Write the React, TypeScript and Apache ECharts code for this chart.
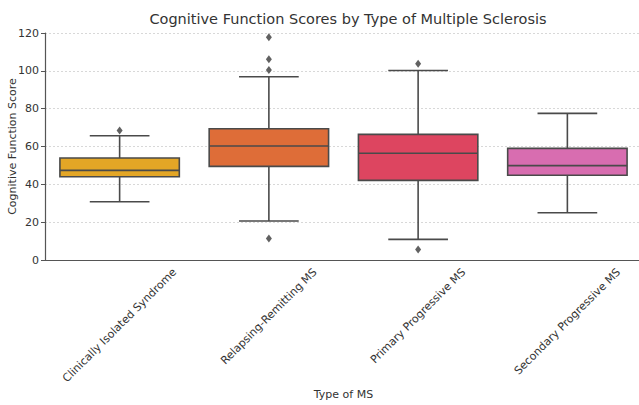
import React, { useEffect, useRef } from "react";
import * as echarts from "echarts";

const categories = [
  "Clinically Isolated Syndrome",
  "Relapsing-Remitting MS",
  "Primary Progressive MS",
  "Secondary Progressive MS",
];
// [lower whisker, Q1, median, Q3, upper whisker]
const boxStats = [
  [30.8, 44.0, 47.4, 53.9, 65.7],
  [20.6, 49.5, 60.3, 69.4, 96.9],
  [10.9, 42.1, 56.4, 66.4, 100.2],
  [25.0, 44.8, 49.9, 59.0, 77.5],
];
// [category index, value]
const outliers = [
  [0, 68.5],
  [1, 117.7],
  [1, 106.1],
  [1, 100.4],
  [1, 11.3],
  [2, 103.8],
  [2, 5.6],
];
const boxColors = ["#E3A626", "#DE6D38", "#DD4560", "#D86DB0"];
const yTicks = [0, 20, 40, 60, 80, 100, 120];

const FONT = "DejaVu Sans";
const LABEL_SIZE = 11;

export default function App() {
  const ref = useRef<HTMLDivElement>(null);
  useEffect(() => {
    if (!ref.current) return;
    const chart = echarts.init(ref.current, undefined, { renderer: "svg" });
    const edge = "#4a4a4a";
    chart.setOption({
      animation: false,
      backgroundColor: "#ffffff",
      title: {
        text: "Cognitive Function Scores by Type of Multiple Sclerosis",
        left: 343,
        top: 6,
        textAlign: "center",
        textStyle: { fontFamily: FONT, fontSize: 14.5, fontWeight: "normal", color: "#333" },
      },
      grid: {
        left: 45,
        top: 33,
        width: 597,
        height: 227,
        containLabel: false,
        outerBoundsMode: "none",
      },
      xAxis: {
        type: "category",
        data: categories,
        boundaryGap: true,
        name: "Type of MS",
        nameLocation: "middle",
        nameGap: 129,
        nameMoveOverlap: false,
        nameTextStyle: { fontFamily: FONT, fontSize: 11, color: "#333", verticalAlign: "top" },
        axisLine: { lineStyle: { color: "#555", width: 1.2 } },
        axisTick: { alignWithLabel: true, length: 4, lineStyle: { color: "#555" } },
        axisLabel: { show: false },
        splitLine: { show: false },
      },
      yAxis: {
        type: "value",
        min: 0,
        max: 120,
        interval: 20,
        name: "Cognitive Function Score",
        nameLocation: "middle",
        nameGap: 27,
        nameMoveOverlap: false,
        nameTextStyle: { fontFamily: FONT, fontSize: 11, color: "#333" },
        axisLine: { show: true, lineStyle: { color: "#555", width: 1.2 } },
        axisTick: { show: true, length: 4, lineStyle: { color: "#555" } },
        axisLabel: {
          fontFamily: FONT,
          fontSize: 11,
          color: "#333",
          margin: 6,
          customValues: yTicks,
        },
        splitLine: { show: true, lineStyle: { color: "#d8d8d8", type: [2, 2], width: 1 } },
      },
      series: [
        {
          type: "custom",
          data: boxStats.map((s, i) => [i, ...s]),
          encode: { x: 0, y: [1, 2, 3, 4, 5] },
          renderItem: (params: any, api: any) => {
            const idx = api.value(0);
            const vals = [1, 2, 3, 4, 5].map((k) => api.value(k));
            const band = api.size([1, 0])[0];
            const bw = band * 0.8;
            const cw = bw / 2;
            const cx = api.coord([idx, 0])[0];
            const y = vals.map((v: number) => api.coord([idx, v])[1]);
            const ls = { stroke: edge, lineWidth: 1.6 };
            return {
              type: "group",
              children: [
                { type: "line", shape: { x1: cx, y1: y[0], x2: cx, y2: y[1] }, style: ls },
                { type: "line", shape: { x1: cx, y1: y[3], x2: cx, y2: y[4] }, style: ls },
                { type: "line", shape: { x1: cx - cw / 2, y1: y[0], x2: cx + cw / 2, y2: y[0] }, style: ls },
                { type: "line", shape: { x1: cx - cw / 2, y1: y[4], x2: cx + cw / 2, y2: y[4] }, style: ls },
                {
                  type: "rect",
                  shape: { x: cx - bw / 2, y: y[3], width: bw, height: y[1] - y[3] },
                  style: { fill: boxColors[idx], stroke: edge, lineWidth: 1.6 },
                },
                { type: "line", shape: { x1: cx - bw / 2, y1: y[2], x2: cx + bw / 2, y2: y[2] }, style: ls },
              ],
            };
          },
          z: 3,
        },
        {
          type: "scatter",
          data: outliers,
          symbol: "diamond",
          symbolSize: [6, 8],
          itemStyle: { color: "#3a3a3a" },
          z: 4,
        },
      ],
    });

    // Rotated category labels centred on each tick (matplotlib-style ha="center")
    const ctx = document.createElement("canvas").getContext("2d");
    if (ctx) ctx.font = `${LABEL_SIZE}px '${FONT}'`;
    const axisY = chart.convertToPixel({ yAxisIndex: 0 }, 0) as number;
    const c = Math.SQRT1_2;
    const labels = categories.map((name, i) => {
      const x = chart.convertToPixel({ xAxisIndex: 0 }, i) as number;
      const L = ctx ? ctx.measureText(name).width : name.length * 6;
      const h = LABEL_SIZE * 1.1;
      const halfH = ((L + h) * c) / 2;
      return {
        type: "text",
        x,
        y: axisY + 6 + halfH,
        rotation: Math.PI / 4,
        style: {
          text: name,
          fontFamily: FONT,
          fontSize: LABEL_SIZE,
          fill: "#333",
          align: "center",
          verticalAlign: "middle",
        },
      };
    });
    chart.setOption({ graphic: labels });
    return () => chart.dispose();
  }, []);
  return (
    <div
      ref={ref}
      style={{ position: "absolute", left: 0, top: 0, width: 639, height: 405, overflow: "hidden" }}
    />
  );
}
